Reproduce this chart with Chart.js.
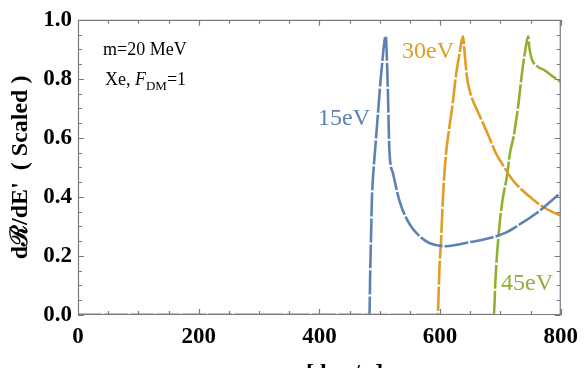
<!DOCTYPE html>
<html>
<head>
<meta charset="utf-8">
<script src="https://cdn.jsdelivr.net/npm/chart.js@4"></script>
<style>
  html, body { margin: 0; padding: 0; background: #fff; }
  #wrap { width: 586px; height: 368px; }
</style>
</head>
<body>
<div id="wrap"><canvas id="myChart" width="586" height="368"></canvas></div>
<script>
// 15 eV curve
const x15 = [0, 483, 484, 486, 487, 489, 492, 497, 503, 510, 512.5, 514, 516, 522, 533, 550, 566, 582, 610, 626, 650, 681, 708, 735, 763, 798, 800];
const y15 = [0, 0, 0.12, 0.3, 0.39, 0.47, 0.55, 0.68, 0.83, 0.945, 0.83, 0.72, 0.56, 0.48, 0.385, 0.306, 0.267, 0.244, 0.233, 0.237, 0.247, 0.26, 0.278, 0.311, 0.35, 0.41, 0.413];
// 30 eV curve
const x30 = [0, 596, 599, 601.6, 605, 610, 615, 621, 626, 632, 638, 641, 645, 652, 660, 670, 681, 692, 703, 719, 735, 752, 768, 785, 800];
const y30 = [0, 0, 0.16, 0.25, 0.406, 0.55, 0.63, 0.717, 0.806, 0.883, 0.944, 0.88, 0.8, 0.74, 0.7, 0.655, 0.604, 0.55, 0.512, 0.461, 0.425, 0.395, 0.37, 0.35, 0.337];
// 45 eV curve
const x45 = [0, 689, 692, 697, 703, 711, 716, 722, 730, 735, 741, 746, 748, 752, 760, 774, 785, 800];
const y45 = [0, 0, 0.128, 0.272, 0.383, 0.472, 0.55, 0.606, 0.717, 0.806, 0.894, 0.944, 0.905, 0.867, 0.844, 0.828, 0.811, 0.79];

const xTicks = [0, 200, 400, 600, 800];
const yTicks = [0, 0.2, 0.4, 0.6, 0.8, 1.0];

const colors = ['#5E81B5', '#E19C24', '#8FB032'];
const serif = "'Liberation Serif', 'DejaVu Serif', serif";

function pts(xs, ys) {
    return xs.map((v, i) => ({x: v, y: ys[i]}));
}

// frame, inward ticks, annotations
const framePlugin = {
    id: 'frame',
    afterDraw(chart) {
        const c = chart.ctx, a = chart.chartArea;
        const sx = chart.scales.x, sy = chart.scales.y;
        c.save();
        c.setLineDash([]);
        c.strokeStyle = '#7a7a7a';
        c.lineWidth = 1.2;
        c.beginPath();
        c.rect(a.left + 0.5, a.top + 0.5, a.right - a.left - 1, a.bottom - a.top - 1);
        for (let v = 0; v <= 800; v += 50) {
            const px = Math.round(sx.getPixelForValue(v)) + 0.5;
            const len = v % 200 === 0 ? 6 : 4;
            c.moveTo(px, a.bottom); c.lineTo(px, a.bottom - len);
            c.moveTo(px, a.top); c.lineTo(px, a.top + len);
        }
        for (let k = 0; k <= 20; k++) {
            const py = Math.round(sy.getPixelForValue(k * 0.05)) + 0.5;
            const len = k % 4 === 0 ? 6 : 4;
            c.moveTo(a.left, py); c.lineTo(a.left + len, py);
            c.moveTo(a.right, py); c.lineTo(a.right - len, py);
        }
        c.stroke();

        c.textBaseline = 'alphabetic';
        c.textAlign = 'left';
        c.fillStyle = '#000';
        c.font = '18px ' + serif;
        c.fillText('m=20 MeV', 103, 55);
        c.fillText('Xe, ', 105, 85);
        let w = c.measureText('Xe, ').width;
        c.font = 'italic 18px ' + serif;
        c.fillText('F', 105 + w, 85);
        w += c.measureText('F').width;
        c.font = '13px ' + serif;
        c.fillText('DM', 105 + w, 90);
        w += c.measureText('DM').width;
        c.font = '18px ' + serif;
        c.fillText('=1', 105 + w, 85);

        c.font = '24px ' + serif;
        c.fillStyle = colors[0];
        c.fillText('15eV', 318, 125);
        c.fillStyle = colors[1];
        c.fillText('30eV', 402, 58);
        c.fillStyle = colors[2];
        c.fillText('45eV', 501, 290);

        c.fillStyle = '#000';
        c.font = 'bold 24px ' + serif;
        c.fillText('[ km/s ]', 306, 380);
        c.restore();
    }
};

const ctx = document.getElementById('myChart').getContext('2d');
const lineStyle = {
    borderWidth: 2.6,
    borderDash: [24, 2],
    pointRadius: 0,
    cubicInterpolationMode: 'monotone',
    fill: false
};

new Chart(ctx, {
    type: 'line',
    data: {
        datasets: [
            Object.assign({label: '15eV', data: pts(x15, y15), borderColor: colors[0]}, lineStyle),
            Object.assign({label: '30eV', data: pts(x30, y30), borderColor: colors[1]}, lineStyle),
            Object.assign({label: '45eV', data: pts(x45, y45), borderColor: colors[2]}, lineStyle)
        ]
    },
    options: {
        responsive: false,
        animation: false,
        layout: { padding: { top: 15, right: 20, left: 0, bottom: 0 } },
        plugins: {
            legend: { display: false },
            tooltip: { enabled: false }
        },
        scales: {
            x: {
                type: 'linear',
                min: 0, max: 800,
                grid: { display: false, drawTicks: false },
                border: { display: false },
                afterBuildTicks(s) { s.ticks = xTicks.map(v => ({value: v})); },
                afterFit(s) { s.height = 53; },
                ticks: {
                    color: '#000',
                    padding: 8,
                    maxRotation: 0,
                    font: { family: serif, size: 23, weight: 'bold' }
                }
            },
            y: {
                min: 0, max: 1,
                grid: { display: false, drawTicks: false },
                border: { display: false },
                afterBuildTicks(s) { s.ticks = yTicks.map(v => ({value: v})); },
                afterFit(s) { s.width = 78; },
                title: {
                    display: true,
                    text: "d\u211B/dE'  ( Scaled )",
                    color: '#000',
                    padding: { top: 6, bottom: 0 },
                    font: { family: serif, size: 24, weight: 'bold' }
                },
                ticks: {
                    color: '#000',
                    padding: 6,
                    callback: v => v.toFixed(1),
                    font: { family: serif, size: 23, weight: 'bold' }
                }
            }
        }
    },
    plugins: [framePlugin]
});
</script>
</body>
</html>
